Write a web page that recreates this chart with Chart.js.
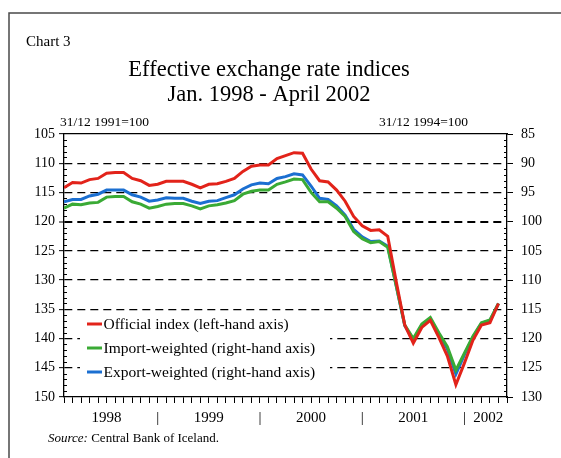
<!DOCTYPE html>
<html>
<head>
<meta charset="utf-8">
<script src="https://cdn.jsdelivr.net/npm/chart.js@4"></script>
<style>
html,body{margin:0;padding:0;background:#fff;}
canvas{display:block;}
</style>
</head>
<body>
<canvas id="c" width="561" height="458"></canvas>
<script>
// ---- Data (monthly, Jan 1998 - April 2002) ----
const official = [114.2,113.3,113.4,112.8,112.6,111.7,111.6,111.6,112.6,113.0,113.8,113.6,
                  113.1,113.1,113.1,113.6,114.2,113.6,113.5,113.1,112.6,111.4,110.5,110.3,
                  110.3,109.2,108.7,108.2,108.3,111.0,113.0,113.2,114.6,116.5,119.1,120.7,
                  121.5,121.4,122.5,130.3,137.7,140.8,138.1,136.9,139.8,143.0,147.9,144.2,
                  140.3,137.7,137.3,134.0];
const importWeighted = [97.7,97.0,97.1,96.8,96.7,95.8,95.7,95.7,96.6,97.0,97.7,97.4,
                  97.0,96.9,96.9,97.3,97.8,97.3,97.1,96.8,96.4,95.3,94.8,94.6,
                  94.6,93.6,93.2,92.7,92.8,95.0,96.6,96.6,97.7,99.1,101.7,102.9,
                  103.6,103.4,104.4,111.0,117.7,120.0,117.5,116.4,119.0,121.4,125.4,122.5,
                  119.6,117.3,116.8,114.0];
const exportWeighted = [96.6,96.2,96.2,95.6,95.3,94.6,94.6,94.6,95.4,95.8,96.5,96.3,
                  95.9,96.0,96.0,96.5,96.9,96.5,96.4,95.9,95.4,94.4,93.7,93.4,
                  93.5,92.6,92.3,91.8,92.0,93.9,96.0,96.2,97.3,98.9,101.3,102.6,
                  103.4,103.3,104.2,111.0,117.8,120.2,117.7,116.6,119.3,121.8,126.1,122.8,
                  119.8,117.4,116.9,114.0];
const seriesLabels = ['Official index (left-hand axis)','Import-weighted (right-hand axis)','Export-weighted (right-hand axis)'];
const seriesColors = ['#e2231a','#3aaa35','#1b6fd1'];
const yearTickPos  = [5, 11, 17, 23, 29, 35, 41, 47, 49.8];
const yearTickText = ['1998','|','1999','|','2000','|','2001','|','2002'];
const titleLines = ['Effective exchange rate indices','Jan. 1998 - April 2002'];
const chartNumber = 'Chart 3';
const leftUnit = '31/12 1991=100';
const rightUnit = '31/12 1994=100';
const sourceLabel = 'Source:';
const sourceText = ' Central Bank of Iceland.';

const FONT = "'Liberation Serif','Times New Roman',serif";
const toPts = arr => arr.map((v,i)=>({x:i,y:v}));

const minorTicks = {
  id:'minorTicks',
  beforeDatasetsDraw(chart){
    const ctx = chart.ctx;
    ctx.save();
    ctx.strokeStyle = '#000';
    ctx.lineWidth = 1;
    const ly = chart.scales.y, ry = chart.scales.y2;
    for (let v = ly.min; v <= ly.max; v++) {
      if (v % 5 === 0) continue;
      const p = Math.round(ly.getPixelForValue(v)) + 0.5;
      ctx.beginPath(); ctx.moveTo(ly.right, p); ctx.lineTo(ly.right + 3, p); ctx.stroke();
    }
    for (let v = ry.min; v <= ry.max; v++) {
      if (v % 5 === 0) continue;
      const p = Math.round(ry.getPixelForValue(v)) + 0.5;
      ctx.beginPath(); ctx.moveTo(ry.left, p); ctx.lineTo(ry.left - 3, p); ctx.stroke();
    }
    ctx.restore();
  }
};

const boxLegend = {
  id:'boxLegend',
  beforeDatasetsDraw(chart){
    const ctx = chart.ctx, a = chart.chartArea;
    const x0 = a.left + 16, y0 = 311;
    ctx.save();
    ctx.fillStyle = '#fff';
    ctx.fillRect(x0, y0, 250, 75);
    ctx.font = '15.5px ' + FONT;
    ctx.textBaseline = 'middle';
    ctx.textAlign = 'left';
    chart.data.datasets.forEach((ds, i) => {
      const yy = 324 + i * 24;
      ctx.strokeStyle = ds.borderColor;
      ctx.lineWidth = 3;
      ctx.beginPath(); ctx.moveTo(x0 + 7, yy); ctx.lineTo(x0 + 22, yy); ctx.stroke();
      ctx.fillStyle = '#000';
      ctx.fillText(ds.label, x0 + 23.5, yy + 0.5);
    });
    ctx.restore();
  }
};

const extraText = {
  id:'extraText',
  afterDraw(chart){
    const ctx = chart.ctx, a = chart.chartArea;
    ctx.save();
    // frame
    ctx.strokeStyle = '#4a4a4a';
    ctx.lineWidth = 1.5;
    ctx.beginPath(); ctx.moveTo(561, 13); ctx.lineTo(9, 13); ctx.lineTo(9, 458); ctx.stroke();
    ctx.fillStyle = '#000';
    ctx.textBaseline = 'middle';
    ctx.font = '15px ' + FONT;
    ctx.textAlign = 'left';
    ctx.fillText(chartNumber, 26, 42);
    // title
    ctx.font = '22.5px ' + FONT;
    ctx.textAlign = 'center';
    titleLines.forEach((t, i) => ctx.fillText(t, 269, 70 + i * 25.5));
    // unit labels
    ctx.font = '13.5px ' + FONT;
    ctx.textAlign = 'left';
    ctx.fillText(leftUnit, a.left - 4, 122);
    ctx.textAlign = 'right';
    ctx.fillText(rightUnit, a.right - 39, 122);
    // source
    ctx.textAlign = 'left';
    ctx.font = 'italic 13px ' + FONT;
    ctx.fillText(sourceLabel, 48, 439);
    const w = ctx.measureText(sourceLabel).width;
    ctx.font = '13px ' + FONT;
    ctx.fillText(sourceText, 48 + w, 439);
    ctx.restore();
  }
};

const isEdge = c => c.tick && (c.tick.value === 105 || c.tick.value === 150);

new Chart(document.getElementById('c'), {
  type:'line',
  data:{
    datasets:[
      {label:seriesLabels[0], data:toPts(official), yAxisID:'y', borderColor:seriesColors[0]},
      {label:seriesLabels[1], data:toPts(importWeighted), yAxisID:'y2', borderColor:seriesColors[1]},
      {label:seriesLabels[2], data:toPts(exportWeighted), yAxisID:'y2', borderColor:seriesColors[2]}
    ]
  },
  options:{
    responsive:false, animation:false, devicePixelRatio:1,
    elements:{line:{borderWidth:3, tension:0, fill:false}, point:{radius:0}},
    layout:{padding:{left:0,right:0,top:134,bottom:25}},
    plugins:{
      legend:{display:false},
      tooltip:{enabled:false},
      title:{display:false}
    },
    scales:{
      x:{type:'linear', position:'bottom', min:0, max:52,
         ticks:{display:false, stepSize:1, autoSkip:false},
         grid:{display:true, drawOnChartArea:false, drawTicks:true, tickLength:6, tickColor:'#000', tickWidth:1},
         border:{display:true, color:'#000', width:1.3}},
      xYear:{type:'linear', position:'bottom', min:0, max:52,
         afterBuildTicks:s=>{ s.ticks = yearTickPos.map(v=>({value:v})); },
         ticks:{autoSkip:false, maxRotation:0, padding:6, color:'#000',
                font:{family:FONT, size:15},
                callback:(v,i)=>yearTickText[i]},
         grid:{display:false, drawTicks:false}, border:{display:false}},
      xTop:{type:'linear', position:'top', min:0, max:52,
         ticks:{display:false}, grid:{display:false, drawTicks:false},
         border:{display:true, color:'#000', width:1.3}},
      y:{position:'left', reverse:true, min:105, max:150,
         afterFit:s=>{ s.width = 64; },
         ticks:{stepSize:5, padding:4, color:'#000', font:{family:FONT, size:14}},
         grid:{color:c=>isEdge(c)?'rgba(0,0,0,0)':'#000',
               lineWidth:c=>(c.tick && c.tick.value===120)?2:1.3,
               tickColor:'#000', tickLength:5, tickWidth:1, tickBorderDash:[]},
         border:{display:true, color:'#000', width:1.3, dash:[8,5]}},
      y2:{position:'right', reverse:true, min:85, max:130,
         afterFit:s=>{ s.width = 54; },
         ticks:{stepSize:5, padding:8, color:'#000', font:{family:FONT, size:14}},
         grid:{drawOnChartArea:false, tickColor:'#000', tickLength:6, tickWidth:1},
         border:{display:true, color:'#000', width:1.3}}
    }
  },
  plugins:[minorTicks, boxLegend, extraText]
});
</script>
</body>
</html>
